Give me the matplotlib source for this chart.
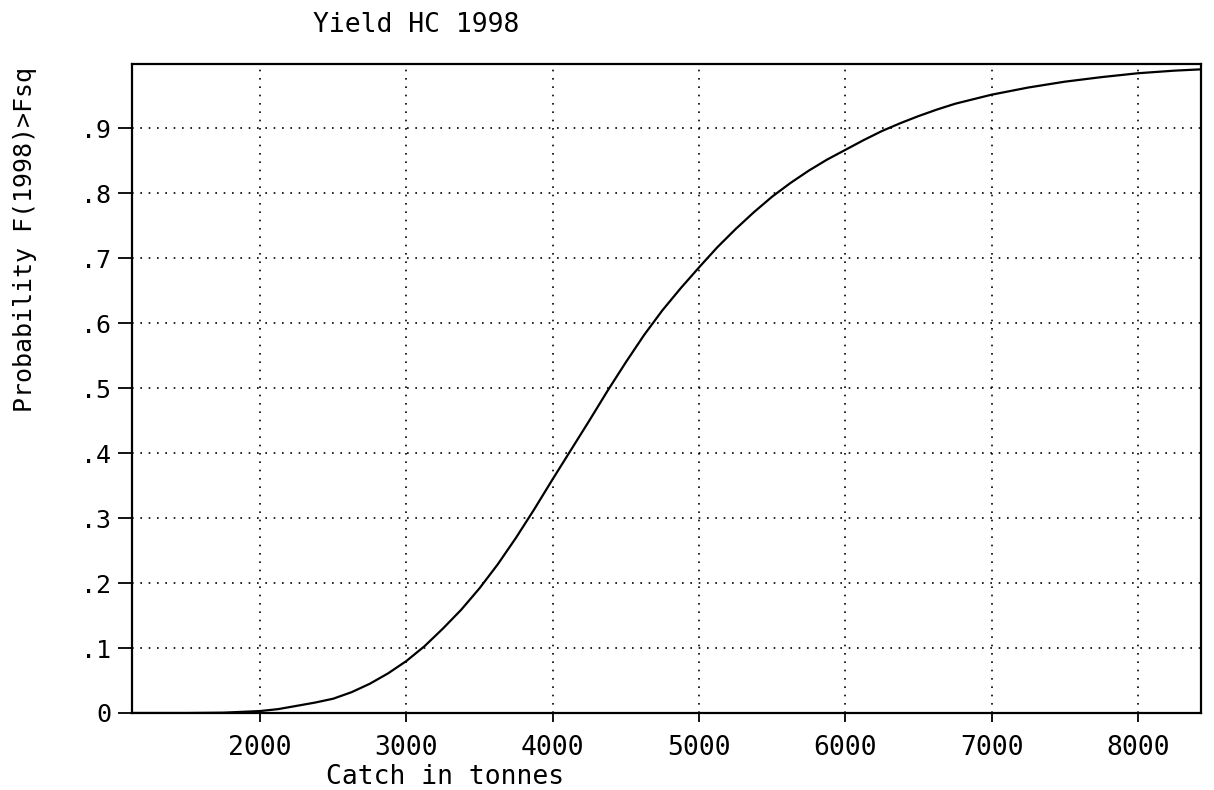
import matplotlib
matplotlib.use("Agg")
import matplotlib.pyplot as plt
import numpy as np

# catch (tonnes) vs probability F(1998) > Fsq
catch = [1125, 1500, 1750, 2000, 2125, 2250, 2375, 2500, 2625, 2750, 2875,
         3000, 3125, 3250, 3375, 3500, 3625, 3750, 3875, 4000, 4125, 4250,
         4375, 4500, 4625, 4750, 4875, 5000, 5125, 5250, 5375, 5500, 5625,
         5750, 5875, 6000, 6125, 6250, 6375, 6500, 6625, 6750, 6875, 7000,
         7250, 7500, 7750, 8000, 8250, 8431]
prob = [0.0, 0.0, 0.0005, 0.003, 0.006, 0.011, 0.016, 0.022, 0.032, 0.045, 0.061,
        0.08, 0.103, 0.13, 0.159, 0.192, 0.229, 0.27, 0.314, 0.36, 0.405, 0.45,
        0.496, 0.54, 0.582, 0.62, 0.654, 0.686, 0.717, 0.745, 0.771, 0.795, 0.816,
        0.835, 0.852, 0.867, 0.882, 0.896, 0.908, 0.919, 0.929, 0.938, 0.945, 0.952,
        0.963, 0.972, 0.979, 0.985, 0.989, 0.991]

xticks = [2000, 3000, 4000, 5000, 6000, 7000, 8000]
yticks = [0, 0.1, 0.2, 0.3, 0.4, 0.5, 0.6, 0.7, 0.8, 0.9]
ytick_labels = ["0", ".1", ".2", ".3", ".4", ".5", ".6", ".7", ".8", ".9"]

font = "DejaVu Sans Mono"

fig = plt.figure(figsize=(12.14, 7.9), dpi=100)
ax = fig.add_axes([132/1214, 77/790, (1201-132)/1214, (713-63.5)/790])

ax.plot(catch, prob, color="black", linewidth=1.6)

ax.set_xlim(1125, 8431)
ax.set_ylim(0, 1.0)
ax.set_xticks(xticks)
ax.set_xticklabels([str(v) for v in xticks], fontfamily=font, fontsize=19)
ax.set_yticks(yticks)
ax.set_yticklabels(ytick_labels, fontfamily=font, fontsize=18)

ax.tick_params(axis="x", direction="out", length=6.5, width=1.3, pad=9)
ax.tick_params(axis="y", direction="out", length=10, width=1.3, pad=5)

ax.grid(True, color="black", linestyle=(0, (1, 4)), linewidth=1.2)
for s in ax.spines.values():
    s.set_linewidth(1.6)
    s.set_color("black")

fig.text(313/1214, 1-25/790, "Yield HC 1998", fontfamily=font, fontsize=19,
         ha="left", va="center")
fig.text(445/1214, 1-784/790, "Catch in tonnes", fontfamily=font, fontsize=19,
         ha="center", va="baseline")
fig.text(25/1214, 1-239/790, "Probability F(1998)>Fsq", fontfamily=font,
         fontsize=18, rotation=90, ha="center", va="center")

fig.savefig("out.png", dpi=100)
